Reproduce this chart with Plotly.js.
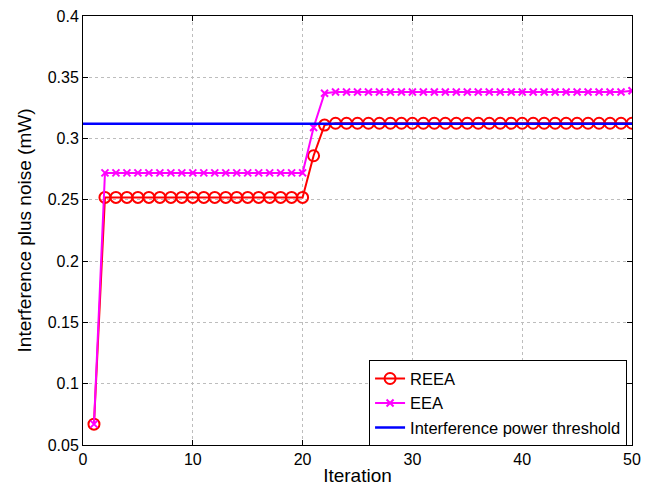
<!DOCTYPE html>
<html>
<head>
<meta charset="utf-8">
<script src="https://cdn.plot.ly/plotly-3.0.1.min.js"></script>
<style>html,body{margin:0;padding:0;background:#fff;}#chart{width:648px;height:488px;}</style>
</head>
<body>
<div id="chart"></div>
<script>
const iterations = [1,2,3,4,5,6,7,8,9,10,11,12,13,14,15,16,17,18,19,20,21,22,23,24,25,26,27,28,29,30,31,32,33,34,35,36,37,38,39,40,41,42,43,44,45,46,47,48,49,50];
const reea = [0.067,0.252,0.252,0.252,0.252,0.252,0.252,0.252,0.252,0.252,0.252,0.252,0.252,0.252,0.252,0.252,0.252,0.252,0.252,0.252,0.286,0.311,0.3125,0.3125,0.3125,0.3125,0.3125,0.3125,0.3125,0.3125,0.3125,0.3125,0.3125,0.3125,0.3125,0.3125,0.3125,0.3125,0.3125,0.3125,0.3125,0.3125,0.3125,0.3125,0.3125,0.3125,0.3125,0.3125,0.3125,0.3125];
const eea = [0.067,0.272,0.272,0.272,0.272,0.272,0.272,0.272,0.272,0.272,0.272,0.272,0.272,0.272,0.272,0.272,0.272,0.272,0.272,0.272,0.309,0.337,0.338,0.338,0.338,0.338,0.338,0.338,0.338,0.338,0.338,0.338,0.338,0.338,0.338,0.338,0.338,0.338,0.338,0.338,0.338,0.338,0.338,0.338,0.338,0.338,0.338,0.338,0.338,0.339];
const thresholdX = [0, 50];
const thresholdY = [0.312, 0.312];
const xTicks = [0,10,20,30,40,50];
const yTicks = [0.05,0.1,0.15,0.2,0.25,0.3,0.35,0.4];
const yTickLabels = ['0.05','0.1','0.15','0.2','0.25','0.3','0.35','0.4'];

const traces = [
  {x: iterations, y: reea, name: 'REEA', mode: 'lines+markers',
   line: {color: '#ff0000', width: 2},
   marker: {symbol: 'circle-open', size: 11, color: '#ff0000', line: {width: 2, color: '#ff0000'}}},
  {x: iterations, y: eea, name: 'EEA', mode: 'lines+markers',
   line: {color: '#ff00ff', width: 2},
   marker: {symbol: 'x-thin-open', size: 7, color: '#ff00ff', line: {width: 2, color: '#ff00ff'}}},
  {x: thresholdX, y: thresholdY, name: 'Interference power threshold', mode: 'lines',
   line: {color: '#0000ff', width: 2.5}}
];

const axisCommon = {
  showline: true, linecolor: '#000', linewidth: 1, mirror: 'ticks',
  ticks: 'inside', ticklen: 5, tickcolor: '#000',
  showgrid: true, gridcolor: '#bdbdbd', griddash: 'dot', gridwidth: 1,
  zeroline: false,
  tickfont: {family: 'Liberation Sans, Arial, sans-serif', size: 16, color: '#000'}
};

const layout = {
  width: 648, height: 488,
  margin: {l: 83, r: 16, t: 16, b: 43},
  paper_bgcolor: '#fff', plot_bgcolor: '#fff',
  showlegend: true,
  font: {family: 'Liberation Sans, Arial, sans-serif', color: '#000'},
  xaxis: Object.assign({}, axisCommon, {
    range: [0, 50], tickvals: xTicks,
    title: {text: 'Iteration', font: {size: 19, color: '#000'}, standoff: 1}
  }),
  yaxis: Object.assign({}, axisCommon, {
    range: [0.05, 0.4], tickvals: yTicks, ticktext: yTickLabels,
    title: {text: 'Interference plus noise (mW)', font: {size: 19, color: '#000'}, standoff: 11}
  }),
  legend: {
    x: 0.991, xanchor: 'right', y: -0.003, yanchor: 'bottom',
    bgcolor: '#fff', bordercolor: '#000', borderwidth: 1,
    font: {size: 16.5, color: '#000'},
    tracegroupgap: 0, itemwidth: 30
  }
};

Plotly.newPlot('chart', traces, layout, {displayModeBar: false, staticPlot: true});
</script>
</body>
</html>
